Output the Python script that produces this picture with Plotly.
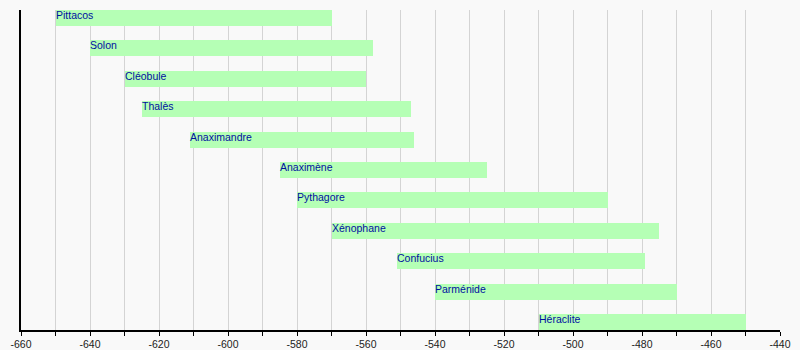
import plotly.graph_objects as go

names = ["Pittacos", "Solon", "Cléobule", "Thalès", "Anaximandre", "Anaximène",
         "Pythagore", "Xénophane", "Confucius", "Parménide", "Héraclite"]
starts = [-650, -640, -630, -625, -611, -585, -580, -570, -551, -540, -510]
ends = [-570, -558, -560, -547, -546, -525, -490, -475, -479, -470, -450]

tick_vals = list(range(-660, -439, 10))
tick_text = [str(v) if v % 20 == 0 else "" for v in tick_vals]

fig = go.Figure()
fig.add_trace(go.Bar(
    y=names,
    x=[e - s for s, e in zip(starts, ends)],
    base=starts,
    orientation="h",
    width=0.53,
    marker=dict(color="#b5ffb5", line=dict(width=0)),
    hoverinfo="skip",
))

for n, s in zip(names, starts):
    fig.add_annotation(
        x=s, y=n, text=n, showarrow=False,
        xanchor="left", yanchor="middle", xshift=-2, yshift=3,
        font=dict(family="Liberation Sans, Arial", size=10.5, color="#0010a0"),
    )

fig.update_layout(
    width=800, height=350,
    margin=dict(l=21, r=20, t=10, b=20, autoexpand=False),
    paper_bgcolor="#f9f9f9",
    plot_bgcolor="#f9f9f9",
    showlegend=False,
    bargap=0,
    xaxis=dict(
        range=[-660, -440],
        automargin=False,
        tickmode="array", tickvals=tick_vals, ticktext=tick_text,
        ticks="outside", ticklen=4, tickcolor="#000", tickwidth=1,
        showgrid=True, gridcolor="#d4d4d4", gridwidth=1,
        zeroline=False,
        showline=True, linecolor="#000", linewidth=1.5,
        tickfont=dict(family="Liberation Sans, Arial", size=10.5, color="#222"),
        fixedrange=True,
    ),
    yaxis=dict(
        type="category",
        automargin=False,
        range=[10.263, -0.263],
        showticklabels=False, ticks="",
        showgrid=False, zeroline=False,
        showline=True, linecolor="#000", linewidth=1.5,
        fixedrange=True,
    ),
)

fig.write_html("out.html")
